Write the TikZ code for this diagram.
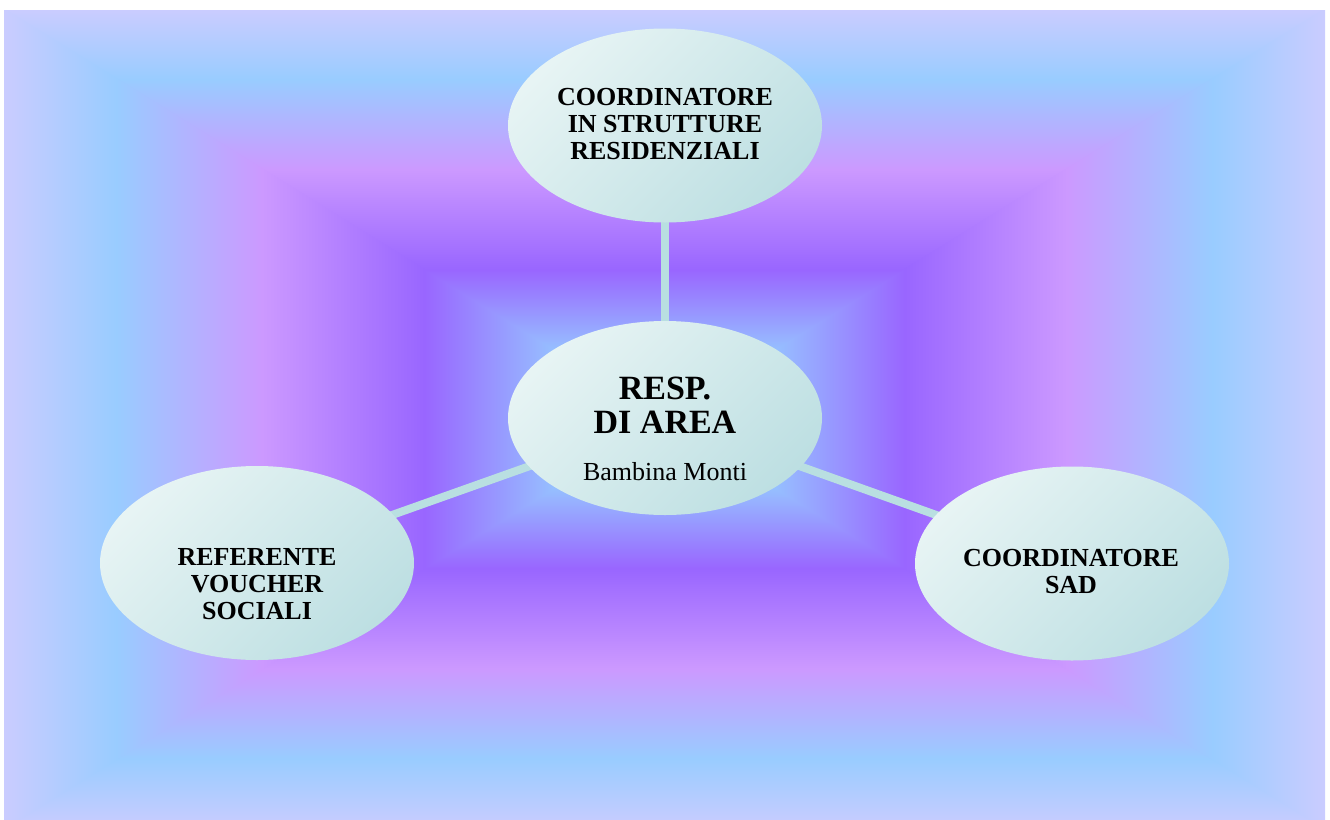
\documentclass[tikz,border=0pt]{standalone}
\usepackage{fontspec}
\setmainfont{Liberation Serif}
\usetikzlibrary{shapes.geometric}
\definecolor{edgeC}{HTML}{CACCFF}
\definecolor{blueC}{HTML}{99CCFF}
\definecolor{pinkC}{HTML}{CC99FF}
\definecolor{violC}{HTML}{9966FF}
\definecolor{centC}{HTML}{96C8FF}
\definecolor{bubA}{HTML}{E7F4F4}
\definecolor{bubB}{HTML}{BDDFE2}
\definecolor{linkC}{HTML}{B9DFE1}
\pgfdeclarehorizontalshading{boxgrad}{100bp}{color(0bp)=(edgeC); color(25bp)=(edgeC); color(33.5bp)=(blueC); color(44.5bp)=(pinkC); color(56.75bp)=(violC); color(67.5bp)=(centC); color(75bp)=(centC); color(100bp)=(centC)}
\pgfdeclarelayer{bglayer}
\pgfdeclarelayer{linklayer}
\pgfsetlayers{bglayer,linklayer,main}
\begin{document}
\begin{tikzpicture}[x=1pt,y=-1pt,
  bubble/.style={ellipse, minimum width=314pt, minimum height=194pt, inner sep=0pt,
    top color=bubA, bottom color=bubB, shading angle=45},
  lbl/.style={font=\fontsize{26}{27}\selectfont\bfseries, align=center, inner sep=0pt, anchor=north},
  bigl/.style={font=\fontsize{34}{34}\selectfont\bfseries, align=center, inner sep=0pt, anchor=north},
  namel/.style={font=\fontsize{26}{27}\selectfont, inner sep=0pt, anchor=base},
  link/.style={draw=linkC, line width=8pt}]
\useasboundingbox (0,0) rectangle (1330,819);
\begin{pgfonlayer}{bglayer}
\begin{scope}
\clip (4,10) rectangle (1325,819);
\path[shading=boxgrad, shading angle=-90] (4,10) -- (1325,10) -- (664.5,419) -- cycle;
\path[shading=boxgrad, shading angle=90] (4,828) -- (1325,828) -- (664.5,419) -- cycle;
\path[shading=boxgrad] (4,8.5) -- (666,419) -- (4,829.5) -- cycle;
\path[shading=boxgrad, shading angle=180] (1325,8.5) -- (663,419) -- (1325,829.5) -- cycle;
\end{scope}
\end{pgfonlayer}
\node[bubble] (t) at (665,125.5) {};
\node[bubble] (c) at (665,418) {};
\node[bubble] (l) at (257,563) {};
\node[bubble] (r) at (1072,563.5) {};
\node[lbl] (tlbl) at (665,88.5) {COORDINATORE\\IN STRUTTURE\\RESIDENZIALI};
\node[bigl] (clbl) at (665,377) {RESP.\\DI AREA};
\node[namel] (cname) at (665,480.5) {Bambina Monti};
\node[lbl] (llbl) at (257,548.5) {REFERENTE\\VOUCHER\\SOCIALI};
\node[lbl] (rlbl) at (1071,549.5) {COORDINATORE\\SAD};
\begin{pgfonlayer}{linklayer}
\draw[link] (c.center) -- (t.center);
\draw[link] (c.center) -- (l.center);
\draw[link] (c.center) -- (r.center);
\end{pgfonlayer}
\end{tikzpicture}
\end{document}
